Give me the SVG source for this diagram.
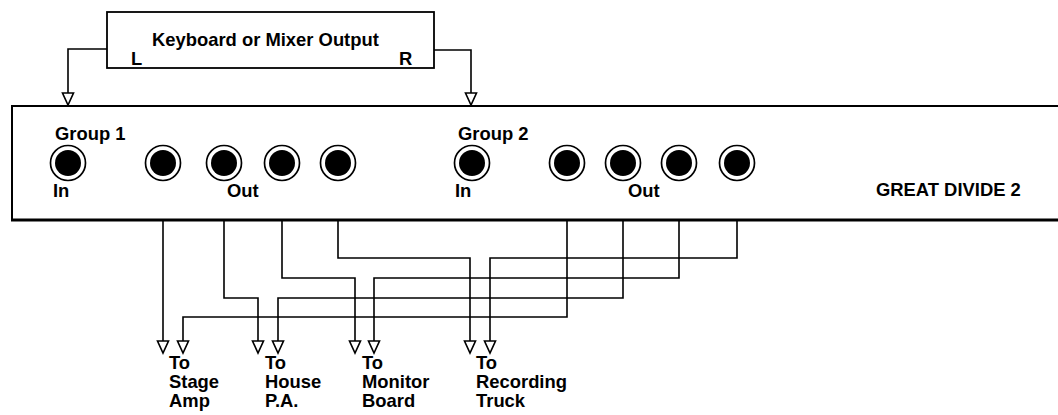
<svg xmlns="http://www.w3.org/2000/svg" width="1058" height="415" viewBox="0 0 1058 415">
<style>
text{font-family:"Liberation Sans",Arial,sans-serif;font-weight:bold;font-size:18.4px;fill:#000}
.ln{fill:none;stroke:#000;stroke-width:1.6}
.outer{fill:#fff;stroke:#000;stroke-width:1.7}
.inner{fill:#000}
.ah{fill:#fff;stroke:#000;stroke-width:1.6;stroke-linejoin:miter}
</style>
<defs>
<path id="arrow" class="ah" d="M-5.5,-12 L5.5,-12 L0,0 Z"/>
</defs>
<rect width="1058" height="415" fill="#fff"/>
<g id="source">
<rect x="107" y="12" width="327" height="56" fill="#fff" stroke="#000" stroke-width="1.8"/>
<text x="152" y="46">Keyboard or Mixer Output</text>
<text x="131" y="65">L</text>
<text x="399" y="65">R</text>
</g>
<g id="great-divide">
<path d="M1058,106 H12 V220" fill="none" stroke="#000" stroke-width="2"/>
<line x1="11" y1="220" x2="1058" y2="220" stroke="#000" stroke-width="3"/>
<text x="55" y="140">Group 1</text>
<text x="458" y="140">Group 2</text>
<text x="53" y="197">In</text>
<text x="455" y="197">In</text>
<text x="227" y="197">Out</text>
<text x="628" y="197">Out</text>
<text x="876" y="196">GREAT DIVIDE 2</text>
<g id="jacks">
<circle class="outer" cx="68" cy="163" r="17.5"/><circle class="inner" cx="68" cy="163" r="13"/>
<circle class="outer" cx="163" cy="163" r="17.5"/><circle class="inner" cx="163" cy="163" r="13"/>
<circle class="outer" cx="224" cy="163" r="17.5"/><circle class="inner" cx="224" cy="163" r="13"/>
<circle class="outer" cx="282" cy="163" r="17.5"/><circle class="inner" cx="282" cy="163" r="13"/>
<circle class="outer" cx="338" cy="163" r="17.5"/><circle class="inner" cx="338" cy="163" r="13"/>
<circle class="outer" cx="472" cy="163" r="17.5"/><circle class="inner" cx="472" cy="163" r="13"/>
<circle class="outer" cx="567" cy="163" r="17.5"/><circle class="inner" cx="567" cy="163" r="13"/>
<circle class="outer" cx="623" cy="163" r="17.5"/><circle class="inner" cx="623" cy="163" r="13"/>
<circle class="outer" cx="679" cy="163" r="17.5"/><circle class="inner" cx="679" cy="163" r="13"/>
<circle class="outer" cx="737" cy="163" r="17.5"/><circle class="inner" cx="737" cy="163" r="13"/>
</g>
</g>
<g id="dest-stage"><text x="169" y="369">To</text><text x="169" y="388">Stage</text><text x="169" y="407">Amp</text></g>
<g id="dest-house"><text x="265" y="369">To</text><text x="265" y="388">House</text><text x="265" y="407">P.A.</text></g>
<g id="dest-monitor"><text x="362" y="369">To</text><text x="362" y="388">Monitor</text><text x="362" y="407">Board</text></g>
<g id="dest-recording"><text x="476" y="369">To</text><text x="476" y="388">Recording</text><text x="476" y="407">Truck</text></g>
<g id="connectors">
<path class="ln" d="M107,49 H68 V93"/>
<path class="ln" d="M434,50 H471 V93"/>
<path class="ln" d="M163,221 V341"/>
<path class="ln" d="M224,221 V298 H258 V341"/>
<path class="ln" d="M282,221 V278 H355 V341"/>
<path class="ln" d="M338,221 V258 H470 V341"/>
<path class="ln" d="M567,221 V317 H183 V341"/>
<path class="ln" d="M623,221 V298 H278 V341"/>
<path class="ln" d="M679,221 V278 H374 V341"/>
<path class="ln" d="M737,221 V258 H490 V341"/>
<use href="#arrow" x="68" y="105"/>
<use href="#arrow" x="471" y="105"/>
<use href="#arrow" x="163" y="353"/>
<use href="#arrow" x="183" y="353"/>
<use href="#arrow" x="258" y="353"/>
<use href="#arrow" x="278" y="353"/>
<use href="#arrow" x="355" y="353"/>
<use href="#arrow" x="374" y="353"/>
<use href="#arrow" x="470" y="353"/>
<use href="#arrow" x="490" y="353"/>
</g>
</svg>
